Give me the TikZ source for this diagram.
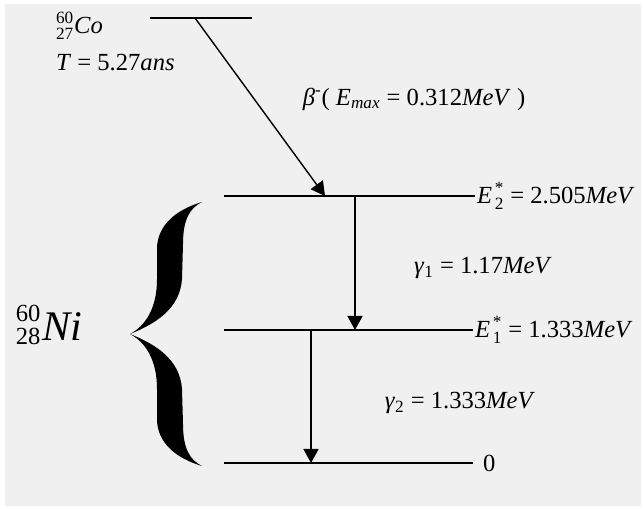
\documentclass[tikz,border=0pt]{standalone}
\usepackage{amsmath}
\usepackage{fontspec}
\setmainfont{Liberation Serif}
\usetikzlibrary{arrows.meta, positioning}
\definecolor{PaperGray}{RGB}{240, 240, 240}
\newcommand{\isoscript}[2]{$^{\text{#1}}_{\text{#2}}$}

\begin{document}
\begin{tikzpicture}[
  x=0.02cm, y=-0.02cm,
  level/.style={line width=0.8pt},
  decay/.style={-{Triangle[length=0.28cm, width=0.3cm]}, line width=0.8pt},
  lbl/.style={font=\fontsize{14}{16}\selectfont, inner sep=1pt},
  nucleus/.style={font=\fontsize{24}{28}\selectfont, inner sep=0pt}
]
  \fill[PaperGray] (5,4) rectangle (641,506);
  \useasboundingbox (0,0) rectangle (643,509);

  \coordinate (coL) at (150,18);
  \coordinate (coR) at (252,18);
  \coordinate (e2L) at (224,196);
  \coordinate (e2R) at (475,196);
  \coordinate (e1L) at (224,330);
  \coordinate (e1R) at (473,330);
  \coordinate (gsL) at (224,463);
  \coordinate (gsR) at (473,463);

  \draw[level] (coL) -- (coR);
  \draw[level] (e2L) -- (e2R);
  \draw[level] (e1L) -- (e1R);
  \draw[level] (gsL) -- (gsR);

  \coordinate (betaS) at (195,18);
  \coordinate (betaE) at (325,196);
  \coordinate (g1S) at (355,196);
  \coordinate (g1E) at (355,330);
  \coordinate (g2S) at (311,330);
  \coordinate (g2E) at (311,463);

  \draw[decay] (betaS) -- (betaE);
  \draw[decay] (g1S) -- (g1E);
  \draw[decay] (g2S) -- (g2E);

  \node[lbl, anchor=west] (e2lbl) at (e2R) {\textit{E}\kern1.5pt\isoscript{*}{2} = 2.505\textit{MeV}};
  \node[lbl, anchor=west] (e1lbl) at (e1R) {\textit{E}\kern1.5pt\isoscript{*}{1} = 1.333\textit{MeV}};
  \node[lbl, anchor=west, xshift=4.5pt] (gslbl) at (gsR) {0};
  \node[lbl] (betalbl) at (414,99) {\textit{β}$^{\text{-}}$( \textit{E}$_{\textit{max}}$ = 0.312\textit{MeV} )};
  \node[lbl] (g1lbl) at (483,268) {\textit{γ}$_{\text{1}}$ = 1.17\textit{MeV}};
  \node[lbl] (g2lbl) at (460,403) {\textit{γ}$_{\text{2}}$ = 1.333\textit{MeV}};
  \node[lbl, anchor=west] (colbl) at (54,26) {\isoscript{60}{27}\textit{Co}};
  \node[lbl, anchor=west] (tlbl) at (54,63) {\textit{T} = 5.27\textit{ans}};
  \node[nucleus] (nilbl) at (49,325) {{\fontsize{14}{14}\selectfont\rlap{\raisebox{11pt}{60}}\raisebox{-2pt}{28}}\kern1pt\textit{Ni}};

  \begin{scope}[shift={(130,334)}]
    \foreach \s in {1,-1}
      \fill[yscale=\s] (72,-132) .. controls (45,-124) and (27,-108) .. (27,-85)
        -- (27,-55) .. controls (27,-25) and (15,-8) .. (0,0)
        .. controls (25,-10) and (50,-25) .. (52,-55)
        -- (53,-90) .. controls (53,-115) and (60,-126) .. (72,-132) -- cycle;
  \end{scope}
\end{tikzpicture}
\end{document}
